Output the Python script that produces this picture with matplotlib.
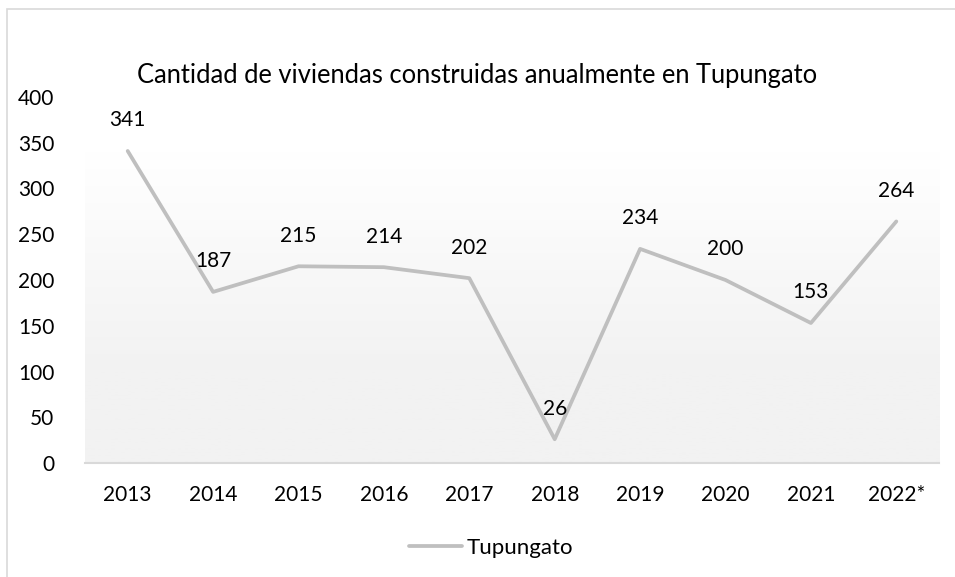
import matplotlib
matplotlib.use("Agg")
import matplotlib.pyplot as plt
import numpy as np
from matplotlib.lines import Line2D
from matplotlib.patches import Rectangle

years = ["2013", "2014", "2015", "2016", "2017", "2018", "2019", "2020", "2021", "2022*"]
values = [341, 187, 215, 214, 202, 26, 234, 200, 153, 264]
yticks = [0, 50, 100, 150, 200, 250, 300, 350, 400]
title = "Cantidad de viviendas construidas anualmente en Tupungato"
series_name = "Tupungato"

plt.rcParams['font.family'] = ['Lato', 'DejaVu Sans']
W, H = 955, 577
fig = plt.figure(figsize=(W / 100, H / 100), dpi=100)
fig.patch.set_facecolor('white')

# outer chart border (left and top edges visible)
fig.patches.append(Rectangle((7 / W, -0.1), 1.2, (H - 9) / H + 0.1, transform=fig.transFigure,
                             fill=False, edgecolor='#d9d9d9', linewidth=1.2))

left, right, top, bottom = 85, 939, 97, 463
ax = fig.add_axes([left / W, (H - bottom) / H, (right - left) / W, (bottom - top) / H])

# gradient background
grad = np.linspace(0, 1, 256).reshape(-1, 1)
cmap = matplotlib.colors.LinearSegmentedColormap.from_list(
    'g', [(0.0, '#ffffff'), (0.15, '#ffffff'), (0.75, '#f2f2f2'), (1.0, '#f2f2f2')])
ax.imshow(grad, extent=[0, 1, 0, 1], transform=ax.transAxes, cmap=cmap, aspect='auto',
          zorder=0, origin='upper', vmin=0, vmax=1)

x = np.arange(len(years))
ax.plot(x, values, color='#bfbfbf', linewidth=2.7, solid_capstyle='round', zorder=3)
for xi, v in zip(x, values):
    ax.annotate(str(v), (xi, v), xytext=(0, 22), textcoords='offset points',
                ha='center', va='center', fontsize=15, color='#000000', zorder=4)

ax.set_xlim(-0.5, len(years) - 0.5)
ax.set_ylim(0, 400)
ax.set_xticks(x)
ax.set_xticklabels(years, fontsize=15)
ax.set_yticks(yticks)
ax.set_yticklabels([str(t) for t in yticks], fontsize=15)
ax.tick_params(axis='both', length=0, colors='#000000')
ax.tick_params(axis='x', pad=16)
ax.tick_params(axis='y', pad=22)
for s in ['top', 'right', 'left']:
    ax.spines[s].set_visible(False)
ax.spines['bottom'].set_color('#d9d9d9')
ax.spines['bottom'].set_linewidth(1.5)
ax.spines['bottom'].set_zorder(2)

fig.text(0.5, (H - 75) / H, title, ha='center', va='center', fontsize=18.4, color='#000000')

handle = Line2D([0], [0], color='#bfbfbf', linewidth=2.7, solid_capstyle='round')
fig.legend([handle], [series_name], loc='center', bbox_to_anchor=(491 / W, (H - 548) / H),
           frameon=False, fontsize=16, handlelength=2.4, handletextpad=0.2)

fig.savefig('out.png', dpi=100)
